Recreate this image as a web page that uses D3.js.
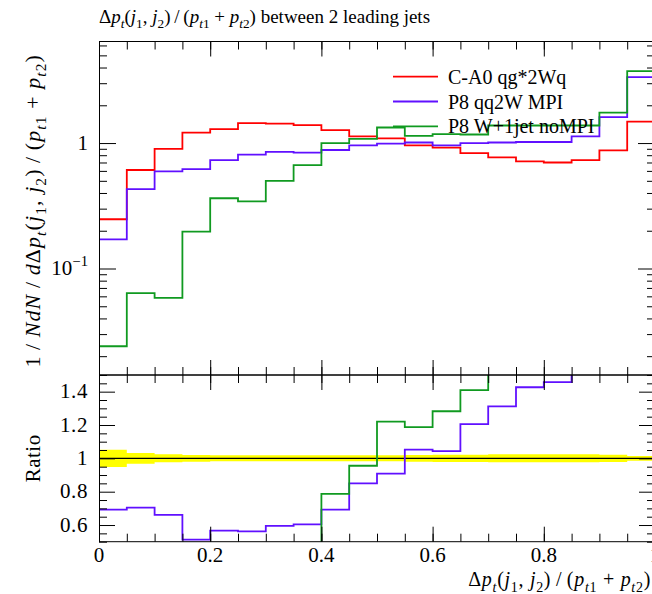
<!DOCTYPE html>
<html>
<head>
<meta charset="utf-8">
<script src="https://cdn.jsdelivr.net/npm/d3@7"></script>
<style>
  html, body { margin: 0; padding: 0; background: #fff; }
  svg text { font-family: "Liberation Serif", "DejaVu Serif", serif; white-space: pre; }
</style>
</head>
<body>
<svg id="chart" width="652" height="594"></svg>
<script>
// ---------------- data ----------------
const binEdges = [0, 0.05, 0.1, 0.15, 0.2, 0.25, 0.3, 0.35, 0.4, 0.45, 0.5,
                  0.55, 0.6, 0.65, 0.7, 0.75, 0.8, 0.85, 0.9, 0.95, 1.0];
const seriesNames = ["C-A0 qg*2Wq", "P8 qq2W MPI", "P8 W+1jet noMPI"];
const seriesColors = ["#ff0000", "#6010ff", "#109a20"];
const redValues   = [0.247, 0.61, 0.90, 1.21, 1.29, 1.44, 1.43, 1.39, 1.27, 1.13,
                     1.09, 0.96, 0.92, 0.83, 0.77, 0.715, 0.70, 0.73, 0.875, 1.48];
const blueValues  = [0.171, 0.43, 0.595, 0.62, 0.73, 0.81, 0.85, 0.84, 0.88, 0.96,
                     0.99, 1.01, 0.96, 1.0, 1.01, 1.02, 1.02, 1.13, 1.61, 3.35];
const greenValues = [0.024, 0.0636, 0.0583, 0.197, 0.363, 0.343, 0.50, 0.668, 1.0, 1.08,
                     1.33, 1.14, 1.18, 1.17, 1.38, 1.38, 1.38, 1.38, 1.75, 3.74];
// relative uncertainty of the reference (red) histogram, drawn as the yellow band
const refRelErr   = [0.052, 0.032, 0.024, 0.02, 0.018, 0.018, 0.018, 0.018, 0.018, 0.018,
                     0.018, 0.02, 0.022, 0.022, 0.024, 0.024, 0.024, 0.024, 0.022, 0.014];
const xTickValues = [0, 0.2, 0.4, 0.6, 0.8, 1];
const xTickLabels = ["0", "0.2", "0.4", "0.6", "0.8", "1"];
const ratioTickValues = [0.6, 0.8, 1, 1.2, 1.4];
const ratioTickLabels = ["0.6", "0.8", "1", "1.2", "1.4"];
const logTickValues = [0.1, 1];
const logTickMantissa = ["10", "1"];
const logTickExponent = ["\u22121", ""];
const mainDomain = [0.01416, 6.45];
const ratioDomain = [0.5, 1.5];

// ---------------- layout ----------------
const L = 99, R = 655, mainTop = 41.5, mainBot = 375, ratBot = 541.7;
const FS = 20;

const svg = d3.select("#chart");
const x = d3.scaleLinear().domain([0, 1]).range([L, R]);
const yMain = d3.scaleLog().domain(mainDomain).range([mainBot, mainTop]);
const yRat = d3.scaleLinear().domain(ratioDomain).range([ratBot, mainBot]);

const defs = svg.append("defs");
defs.append("clipPath").attr("id", "clipMain").append("rect")
  .attr("x", L).attr("y", mainTop).attr("width", R - L).attr("height", mainBot - mainTop);
defs.append("clipPath").attr("id", "clipRat").append("rect")
  .attr("x", L).attr("y", mainBot).attr("width", R - L).attr("height", ratBot - mainBot);

// math text helper: flags 'i' italic, 'b' subscript, 'p' superscript
function addMath(textSel, parts, fs) {
  let cur = 0;
  parts.forEach(([s, f]) => {
    const ts = textSel.append("tspan").text(s);
    if (f.includes("i")) ts.attr("font-style", "italic");
    let target = 0;
    if (f.includes("b")) { target = 0.28 * fs; ts.attr("font-size", 0.7 * fs); }
    if (f.includes("p")) { target = -0.42 * fs; ts.attr("font-size", 0.7 * fs); }
    if (target !== cur) ts.attr("dy", target - cur);
    cur = target;
  });
}

const stepPoints = vals => vals.flatMap((v, i) => [[binEdges[i], v], [binEdges[i + 1], v]]);

// ---------------- main panel ----------------
const gMain = svg.append("g").attr("clip-path", "url(#clipMain)");
const lineMain = d3.line().x(d => x(d[0])).y(d => yMain(d[1]));
[redValues, blueValues, greenValues].forEach((vals, k) => {
  gMain.append("path").attr("d", lineMain(stepPoints(vals)))
    .attr("fill", "none").attr("stroke", seriesColors[k]).attr("stroke-width", 1.8);
});

// ---------------- ratio panel ----------------
const gRat = svg.append("g").attr("clip-path", "url(#clipRat)");
const band = binEdges.slice(0, -1).flatMap((e, i) => [
  [binEdges[i], 1 - refRelErr[i], 1 + refRelErr[i]],
  [binEdges[i + 1], 1 - refRelErr[i], 1 + refRelErr[i]]]);
gRat.append("path")
  .attr("d", d3.area().x(d => x(d[0])).y0(d => yRat(d[1])).y1(d => yRat(d[2]))(band))
  .attr("fill", "#ffff00").attr("stroke", "none");
gRat.append("line").attr("x1", L).attr("x2", R).attr("y1", yRat(1)).attr("y2", yRat(1))
  .attr("stroke", "#000").attr("stroke-width", 1.2);
const lineRat = d3.line().x(d => x(d[0])).y(d => yRat(d[1]));
[blueValues, greenValues].forEach((vals, k) => {
  const ratio = vals.map((v, i) => v / redValues[i]);
  gRat.append("path").attr("d", lineRat(stepPoints(ratio)))
    .attr("fill", "none").attr("stroke", seriesColors[k + 1]).attr("stroke-width", 1.8);
});

// ---------------- axes / ticks ----------------
const xMinor = d3.range(0, 1.0001, 0.05).map(v => +v.toFixed(2));
function xTicks(yPos, dir) { // dir: -1 upward ticks, +1 downward
  const gMaj = svg.append("g").attr("transform", `translate(0,${yPos})`)
    .call((dir < 0 ? d3.axisBottom(x) : d3.axisTop(x)).tickValues(xTickValues).tickSize(-15).tickFormat(""));
  const gMin = svg.append("g").attr("transform", `translate(0,${yPos})`)
    .call((dir < 0 ? d3.axisBottom(x) : d3.axisTop(x)).tickValues(xMinor).tickSize(-8).tickFormat(""));
  [gMaj, gMin].forEach(g => { g.select(".domain").remove(); g.selectAll("line").attr("stroke", "#000"); });
}
xTicks(mainTop, 1);
xTicks(mainBot, -1);
xTicks(mainBot, 1);
xTicks(ratBot, -1);

const logMinor = [];
[0.01, 0.1, 1].forEach(d => { for (let m = 2; m <= 9; m++) { const v = +(m * d).toPrecision(2); if (v > mainDomain[0] && v < mainDomain[1]) logMinor.push(v); } });
const ratMinor = d3.range(0.5, 1.5001, 0.05).map(v => +v.toFixed(2));
function yTicks(scale, majors, minors, majLen) {
  [[L, d3.axisLeft], [R, d3.axisRight]].forEach(([xp, ax]) => {
    const gMaj = svg.append("g").attr("transform", `translate(${xp},0)`)
      .call(ax(scale).tickValues(majors).tickSize(-majLen).tickFormat(""));
    const gMin = svg.append("g").attr("transform", `translate(${xp},0)`)
      .call(ax(scale).tickValues(minors).tickSize(-8).tickFormat(""));
    [gMaj, gMin].forEach(g => { g.select(".domain").remove(); g.selectAll("line").attr("stroke", "#000"); });
  });
}
yTicks(yMain, logTickValues, logMinor, 17);
yTicks(yRat, ratioTickValues, ratMinor.filter(v => !ratioTickValues.includes(v)), 16);

// frames
[[mainTop, mainBot], [mainBot, ratBot]].forEach(([t, b]) => {
  svg.append("rect").attr("x", L + 0.5).attr("y", t).attr("width", R - L).attr("height", b - t)
    .attr("fill", "none").attr("stroke", "#000").attr("stroke-width", 1);
});

// tick labels
const TFS = 21;
xTickValues.forEach((v, i) => {
  svg.append("text").attr("x", x(v)).attr("y", 562).attr("text-anchor", "middle")
    .attr("font-size", TFS).text(xTickLabels[i]);
});
ratioTickValues.forEach((v, i) => {
  svg.append("text").attr("x", 88).attr("y", yRat(v) + 6.5).attr("text-anchor", "end")
    .attr("font-size", TFS).attr("letter-spacing", 0.6).text(ratioTickLabels[i]);
});
logTickValues.forEach((v, i) => {
  const t = svg.append("text").attr("x", 88).attr("y", yMain(v) + 6.5).attr("text-anchor", "end")
    .attr("font-size", TFS);
  const parts = [[logTickMantissa[i], ""]];
  if (logTickExponent[i]) parts.push([logTickExponent[i], "p"]);
  addMath(t, parts, TFS);
});

// title
const varParts = [["(", ""], ["j", "i"], ["1", "b"], [", ", ""], ["j", "i"], ["2", "b"], [")\u2009/\u2009(", ""],
  ["p", "i"], ["t", "ib"], ["1", "b"], [" + ", ""], ["p", "i"], ["t", "ib"], ["2", "b"], [")", ""]];
const dpParts = [["\u0394", ""], ["p", "i"], ["t", "ib"]].concat(varParts);
addMath(svg.append("text").attr("x", 99).attr("y", 23).attr("font-size", 19),
  dpParts.concat([[" between 2 leading jets", ""]]), 19);

// x label
addMath(svg.append("text").attr("x", 651).attr("y", 586).attr("text-anchor", "end")
  .attr("font-size", 20).attr("letter-spacing", 0.7), dpParts, 20);

// y labels
addMath(svg.append("text").attr("transform", "translate(40,54) rotate(-90)").attr("text-anchor", "end")
  .attr("font-size", 22).attr("letter-spacing", 1.1),
  [["1\u2009/\u2009", ""], ["N", "i"], ["d", "i"], ["N", "i"], ["\u2009/\u2009", ""], ["d", "i"]].concat(dpParts), 22);
svg.append("text").attr("transform", `translate(40,${yRat(1)}) rotate(-90)`).attr("text-anchor", "middle")
  .attr("font-size", 21).attr("letter-spacing", 0.5).text("Ratio");

// legend
seriesNames.forEach((name, k) => {
  const ly = 76.7 + k * 24.8;
  svg.append("line").attr("x1", 393).attr("x2", 438).attr("y1", ly).attr("y2", ly)
    .attr("stroke", seriesColors[k]).attr("stroke-width", 1.8);
  svg.append("text").attr("x", 448).attr("y", ly + 7).attr("font-size", FS).text(name);
});
</script>
</body>
</html>
